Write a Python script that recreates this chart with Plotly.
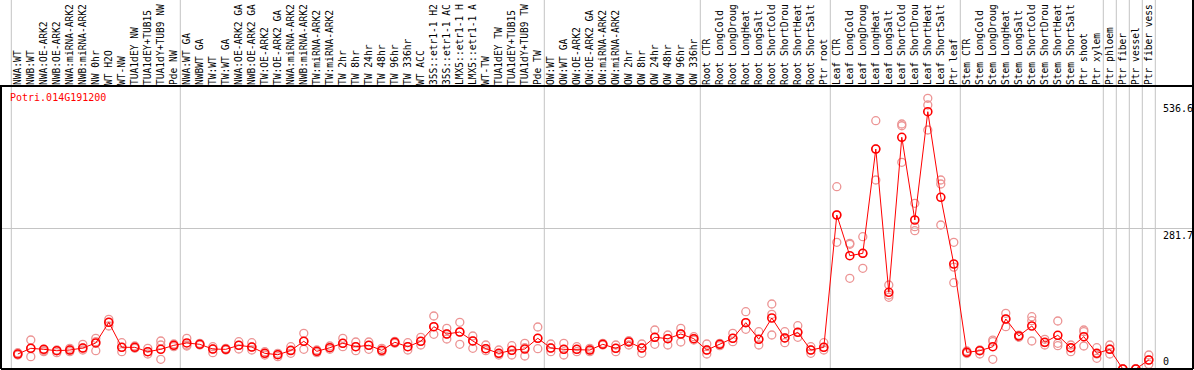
import plotly.graph_objects as go

# ---- data ----
samples = [
    "NWA:WT", "NWB:WT", "NWA:OE-ARK2", "NWB:OE-ARK2", "NWA:miRNA-ARK2", "NWB:miRNA-ARK2",
    "NW 0hr", "WT H2O", "WT-NW", "TUA1dEY NW", "TUA1dEY+TUB15", "TUA1dY+TUB9 NW", "Pde NW",
    "NWA:WT GA", "NWBWT GA", "TW:WT", "TW:WT GA", "NWA:OE-ARK2 GA", "NWB:OE-ARK2 GA",
    "TW:OE-ARK2", "TW:OE-ARK2 GA", "NWA:miRNA-ARK2", "NWB:miRNA-ARK2", "TW:miRNA-ARK2",
    "TW:miRNA-ARK2", "TW 2hr", "TW 8hr", "TW 24hr", "TW 48hr", "TW 96hr", "TW 336hr", "WT ACC",
    "35S::etr1-1 H2", "35S::etr1-1 AC", "LMX5::etr1-1 H", "LMX5::etr1-1 A", "WT-TW",
    "TUA1dEY TW", "TUA1dEY+TUB15", "TUA1dY+TUB9 TW", "Pde TW",
    "OW:WT", "OW:WT GA", "OW:OE-ARK2", "OW:OE-ARK2 GA", "OW:miRNA-ARK2", "OW:miRNA-ARK2",
    "OW 2hr", "OW 8hr", "OW 24hr", "OW 48hr", "OW 96hr", "OW 336hr",
    "Root CTR", "Root LongCold", "Root LongDroug", "Root LongHeat", "Root LongSalt",
    "Root ShortCold", "Root ShortDrou", "Root ShortHeat", "Root ShortSalt", "Ptr root",
    "Leaf CTR", "Leaf LongCold", "Leaf LongDroug", "Leaf LongHeat", "Leaf LongSalt",
    "Leaf ShortCold", "Leaf ShortDrou", "Leaf ShortHeat", "Leaf ShortSalt", "Ptr leaf",
    "Stem CTR", "Stem LongCold", "Stem LongDroug", "Stem LongHeat", "Stem LongSalt",
    "Stem ShortCold", "Stem ShortDrou", "Stem ShortHeat", "Stem ShortSalt", "Ptr shoot",
    "Ptr xylem", "Ptr phloem", "Ptr fiber", "Ptr vessel", "Ptr fiber vess",
]

mean_values = [
    30.0, 41.4, 39.4, 36.6, 38.0, 42.0, 52.1, 93.5, 43.4, 43.4, 34.6, 39.4, 47.4,
    52.1, 49.4, 40.0, 39.4, 47.4, 44.0, 31.4, 28.6, 37.0, 55.5, 35.4, 42.6, 51.5,
    44.6, 47.4, 37.4, 53.5, 44.6, 55.5, 84.7, 70.1, 74.1, 56.1, 40.6, 31.4, 37.4,
    40.0, 61.5,
    42.0, 39.4, 39.4, 38.0, 49.4, 41.4, 54.1, 42.0, 63.5, 60.7, 70.1, 60.7,
    38.0, 49.4, 61.5, 92.7, 59.5, 102.1, 62.1, 73.5, 38.0, 43.4,
    308.3, 226.8, 231.6, 440.4, 153.6, 463.9, 298.3, 515.1, 343.7, 210.2,
    33.4, 36.6, 44.6, 100.1, 66.1, 86.1, 53.5, 67.5, 42.6, 64.7,
    31.4, 39.4, 0.0, 0.0, 18.0,
]

replicates = [
    [32.6, 28.0, 30.0], [58.1, 24.7, 41.4], [39.4, 36.6, 34.6], [38.0, 36.6, 32.6],
    [41.4, 38.0, 34.6], [49.4, 42.0, 38.0], [61.5, 54.7, 36.6], [99.5, 93.5, 86.1],
    [52.7, 43.4, 34.6], [46.0, 43.4, 41.4], [41.4, 34.6, 30.0], [56.1, 48.0, 19.4],
    [50.0, 47.4, 44.6],
    [61.5, 48.0, 46.0], [51.5, 49.4, 48.0], [44.6, 40.0, 32.6], [41.4, 39.4, 38.0],
    [54.7, 47.4, 40.0], [52.7, 44.0, 38.0], [34.6, 31.4, 28.0], [31.4, 28.6, 24.7],
    [44.6, 38.0, 31.4], [71.5, 55.5, 39.4], [38.0, 35.4, 32.6], [46.0, 42.6, 39.4],
    [61.5, 51.5, 44.6], [54.1, 44.6, 36.6], [54.1, 47.4, 39.4], [41.4, 37.4, 34.6],
    [55.5, 53.5, 51.5], [52.7, 44.6, 38.0], [63.5, 55.5, 48.0], [106.1, 84.7, 69.5],
    [81.5, 70.1, 60.1], [93.5, 74.1, 49.4], [66.1, 56.1, 41.4], [48.0, 40.6, 36.6],
    [38.0, 31.4, 28.0], [46.6, 37.4, 28.0], [51.5, 42.6, 26.0], [84.1, 61.5, 40.6],
    [50.0, 42.0, 34.6], [51.5, 39.4, 28.0], [44.6, 39.4, 34.6], [41.4, 38.0, 34.6],
    [51.5, 49.4, 48.0], [48.0, 41.4, 34.6], [56.7, 54.1, 48.0], [50.0, 42.0, 31.4],
    [78.1, 63.5, 49.4], [68.1, 60.7, 48.0], [81.5, 70.1, 54.1], [64.7, 60.7, 58.1],
    [50.0, 38.0, 30.0], [51.5, 49.4, 46.6], [71.5, 61.5, 54.7], [114.7, 92.7, 79.5],
    [74.7, 59.5, 48.0], [130.1, 109.5, 68.1], [74.7, 62.1, 52.7], [86.7, 73.5, 63.5],
    [44.6, 38.0, 31.4], [52.7, 43.4, 38.0],
    [365.0, 308.3, 253.7], [251.7, 249.6, 181.6], [264.9, 231.6, 201.6],
    [497.1, 440.4, 378.4], [168.2, 148.1, 143.5], [490.5, 487.0, 413.8],
    [331.7, 284.9, 276.9], [541.9, 528.5, 478.5], [378.4, 370.4, 288.3],
    [253.7, 204.0, 172.8],
    [36.0, 31.0, 33.0], [38.0, 36.6, 30.0], [58.0, 55.0, 19.4], [111.5, 100.0, 84.7],
    [68.0, 66.0, 63.5], [104.7, 96.7, 56.1], [59.5, 53.0, 48.0], [96.1, 51.5, 46.6],
    [48.0, 42.0, 34.6], [78.1, 74.7, 46.0],
    [42.6, 30.0, 21.4], [48.0, 40.0, 30.0], [0.0, 0.0, 0.0], [0.0, 0.0, 0.0],
    [28.0, 18.0, 9.4],
]

gene_id = "Potri.014G191200"
ytick_values = [536.6, 281.7, 0]
ytick_labels = ["536.6", "281.7", "0"]
group_boundaries = [-0.5, 12.5, 40.5, 52.5, 62.5, 72.5, 83.5, 84.5, 85.5, 86.5, 87.5]

# ---- figure ----
W, H = 1194, 370
ML, MR, MT, MB = 1, 1, 86, 1
PW, PH = W - ML - MR, H - MT - MB
FONT = "DejaVu Sans Mono"

idx = list(range(len(samples)))
rep_x, rep_y = [], []
for i, reps in enumerate(replicates):
    for v in reps:
        rep_x.append(i)
        rep_y.append(v)

fig = go.Figure()
fig.add_trace(go.Scatter(
    x=rep_x, y=rep_y, mode="markers",
    marker=dict(symbol="circle-open", size=8, color="#ec9494", line=dict(width=1.3, color="#ec9494")),
    hoverinfo="skip", showlegend=False,
))
fig.add_trace(go.Scatter(
    x=idx, y=mean_values, mode="lines+markers",
    line=dict(color="#ff0000", width=1),
    marker=dict(symbol="circle-open", size=8, color="#ff0000", line=dict(width=1.6, color="#ff0000")),
    showlegend=False,
))

x0 = (ML - 17.8) / 13.0
x1 = (W - MR - 17.8) / 13.0
top_paper = 1 + MT / PH

shapes = []
for b in group_boundaries:
    shapes.append(dict(type="line", xref="x", yref="paper", x0=b, x1=b, y0=0, y1=top_paper,
                       line=dict(color="#c4c4c4", width=1), layer="below"))
# borders
shapes.append(dict(type="line", xref="paper", yref="paper", x0=-ML / PW, x1=1, y0=1, y1=1,
                   line=dict(color="black", width=2)))
shapes.append(dict(type="line", xref="paper", yref="paper", x0=0, x1=0, y0=0, y1=1,
                   line=dict(color="black", width=2)))
shapes.append(dict(type="line", xref="paper", yref="paper", x0=0, x1=1, y0=0, y1=0,
                   line=dict(color="black", width=2)))
shapes.append(dict(type="line", xref="paper", yref="paper", x0=1, x1=1, y0=0, y1=top_paper,
                   line=dict(color="black", width=2)))

annotations = [dict(text=gene_id, xref="paper", yref="paper", x=7 / PW, y=(H - MB - 97) / PH,
                    xanchor="left", yanchor="middle", showarrow=False,
                    font=dict(family=FONT, size=10, color="#ff0000"))]
for v, t in zip(ytick_values, ytick_labels):
    annotations.append(dict(text=t, xref="paper", yref="y", x=(1161 - ML) / PW, y=v,
                            xanchor="left", yanchor="bottom" if v == 0 else "top",
                            showarrow=False, font=dict(family=FONT, size=10, color="black")))

fig.update_layout(
    width=W, height=H, margin=dict(l=ML, r=MR, t=MT, b=MB, pad=0),
    paper_bgcolor="white", plot_bgcolor="white",
    shapes=shapes, annotations=annotations, template="none",
    xaxis=dict(range=[x0, x1], side="top", tickmode="array", tickvals=idx, ticktext=samples,
               tickangle=-90, tickfont=dict(family=FONT, size=9.6, color="black"),
               showgrid=False, zeroline=False, showline=False, ticks="", automargin=False,
               fixedrange=True),
    yaxis=dict(range=[0, (H - MB - MT) / 0.4995], tickmode="array", tickvals=[281.7],
               showticklabels=False, showgrid=True, gridcolor="#c4c4c4", gridwidth=1,
               zeroline=False, showline=False, ticks="", automargin=False, fixedrange=True),
)

fig.write_html("out.html", config={"displayModeBar": False, "staticPlot": True},
               post_script="document.body.style.margin='0';")
